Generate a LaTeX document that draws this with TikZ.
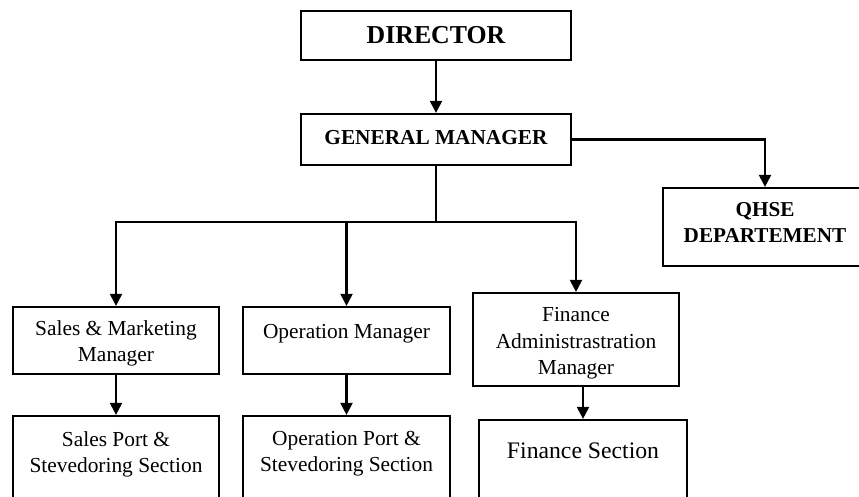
\documentclass[tikz,border=0pt]{standalone}
\usepackage{fontspec}
\setmainfont{Liberation Serif}
\usetikzlibrary{arrows.meta}
\begin{document}
\begin{tikzpicture}[x=1pt,y=-1pt,
  box/.style={draw, line width=2.2pt, inner sep=0pt},
  conn/.style={line width=2.1pt, -{Triangle[length=12pt,width=12pt]}},
  thinlink/.style={line width=1.1pt},
  txt/.style={inner sep=0pt, align=center, font=\fontsize{21.4}{26.5}\selectfont},
  head/.style={inner sep=0pt, align=center, font=\fontsize{21.3}{26}\selectfont\bfseries}]
\path[use as bounding box] (0,0) rectangle (859,496);
\clip (0,0) rectangle (859,496);

% boxes
\node[box, minimum width=270pt, minimum height=49pt] (dir) at (436,35.5) {};
\node[box, minimum width=270pt, minimum height=51pt] (gm) at (436,139.5) {};
\node[box, minimum width=204pt, minimum height=78pt] (qhse) at (765,227) {};
\node[box, minimum width=206pt, minimum height=67pt] (sales) at (116,340.5) {};
\node[box, minimum width=207pt, minimum height=67pt] (op) at (346.5,340.5) {};
\node[box, minimum width=206pt, minimum height=93pt] (fin) at (576,339.5) {};
\node[box, minimum width=206pt, minimum height=103pt] (salesport) at (116,467.5) {};
\node[box, minimum width=207pt, minimum height=103pt] (opport) at (346.5,467.5) {};
\node[box, minimum width=208pt, minimum height=99pt] (finsec) at (583,469.5) {};

% labels
\node[head, font=\fontsize{25.8}{30}\selectfont\bfseries, anchor=base] (dirT) at (436,43.5) {DIRECTOR};
\node[head, anchor=base] (gmT) at (436,144) {GENERAL MANAGER};
\node[head, font=\fontsize{21.2}{26}\selectfont\bfseries, anchor=north] (qhseT) at (765,202.7) {QHSE\\DEPARTEMENT};
\node[txt, anchor=north] (salesT) at (116,320.4) {Sales \& Marketing\\Manager};
\node[txt, anchor=base] (opT) at (346.5,338) {Operation Manager};
\node[txt, anchor=north] (finT) at (576,307.4) {Finance\\Administrastration\\Manager};
\node[txt, anchor=north] (salesportT) at (116,431) {Sales Port \&\\Stevedoring Section};
\node[txt, anchor=north] (opportT) at (346.5,431) {Operation Port \&\\Stevedoring Section};
\node[txt, font=\fontsize{23.7}{28}\selectfont, anchor=base] (finsecT) at (583,458) {Finance Section};

% connectors
\coordinate (split) at (436,222);
\draw[conn] (dir.south) -- (gm.north);
\draw[conn] (gm.east) -| (qhse.north);
\draw[thinlink] (gm.south) -- (split);
\draw[conn] (split) -| (sales.north);
\draw[conn] (split) -| (fin.north);
\draw[conn] (op.north |- split) -- (op.north);
\draw[conn] (sales.south) -- (salesport.north);
\draw[conn] (op.south) -- (opport.north);
\draw[conn] (finsec.north |- fin.south) -- (finsec.north);
\end{tikzpicture}
\end{document}
